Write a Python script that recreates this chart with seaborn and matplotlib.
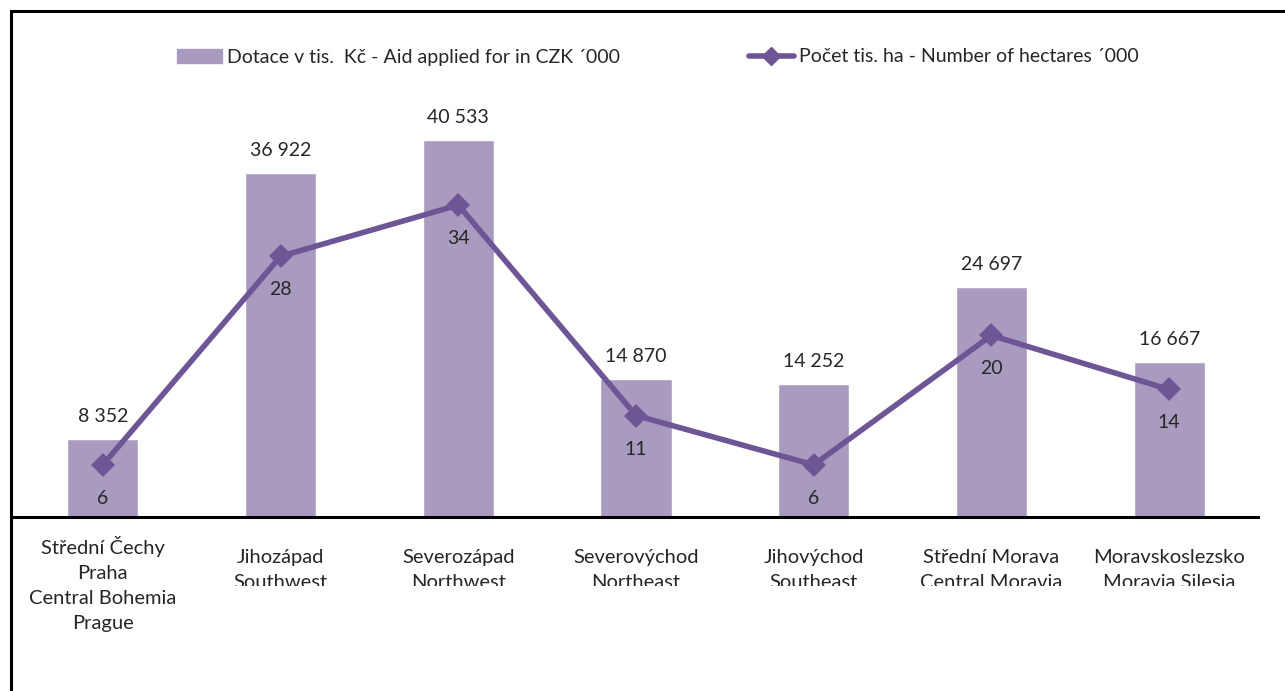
import numpy as np
import pandas as pd
import matplotlib
matplotlib.use("Agg")
import matplotlib.pyplot as plt
import matplotlib.patches as mpatches
from matplotlib.lines import Line2D
from matplotlib.transforms import Bbox
import seaborn as sns

regions = ["Střední Čechy\nPraha\nCentral Bohemia\nPrague",
           "Jihozápad\nSouthwest",
           "Severozápad\nNorthwest",
           "Severovýchod\nNortheast",
           "Jihovýchod\nSoutheast",
           "Střední Morava\nCentral Moravia",
           "Moravskoslezsko\nMoravia Silesia"]
aid = [8352, 36922, 40533, 14870, 14252, 24697, 16667]
hectares = [5.6, 28.0, 33.5, 10.9, 5.6, 19.5, 13.7]

bar_color = "#A99BBF"
line_color = "#6E5596"

sns.set_style("white")
plt.rcParams["font.family"] = ["Lato", "DejaVu Sans"]

df = pd.DataFrame({"region": regions, "aid": aid, "ha": hectares})

fig = plt.figure(figsize=(12.85, 6.91), dpi=100)
ax = fig.add_axes([14/1285, 1-517/691, 1244/1285, 419/691])
sns.barplot(data=df, x="region", y="aid", color=bar_color, width=0.4,
            saturation=1, ax=ax)
ax.set_ylim(0, 45000)
ax.set_xlim(-0.5, 6.5)

ax2 = ax.twinx()
sns.pointplot(data=df, x="region", y="ha", color=line_color, markers="D",
              markersize=9, linewidth=4, ax=ax2)
ax2.set_ylim(0, 45)
ax2.set_xlim(-0.5, 6.5)

for i, v in enumerate(aid):
    ax.annotate(f"{v:,}".replace(",", " "), (i, v), xytext=(0, 10),
                textcoords="offset points", ha="center", va="bottom", fontsize=14)
for i, v in enumerate(hectares):
    ax2.annotate(f"{v:.0f}", (i, v), xytext=(0, -18), textcoords="offset points",
                 ha="center", va="top", fontsize=14)

for a in (ax, ax2):
    a.set_xlabel("")
    a.set_ylabel("")
    a.set_yticks([])
    for s in ["top", "left", "right"]:
        a.spines[s].set_visible(False)
ax2.spines["bottom"].set_visible(False)
ax.spines["bottom"].set_linewidth(2.2)
ax.spines["bottom"].set_color("black")
ax.tick_params(axis="x", length=0, labelsize=14.5)
for t in ax.get_xticklabels():
    t.set_linespacing(1.58)
ticks = ax.xaxis.get_major_ticks()
ticks[0].set_pad(13.5)
for tk in ticks[1:]:
    tk.set_pad(23)
# the lower lines of the two-line labels are cut off in the original
clip = Bbox.from_extents(0, 691 - 586, 1285, 691)
for t in ax.get_xticklabels()[1:]:
    t.set_clip_on(True)
    t.set_clip_box(clip)

handles = [mpatches.Patch(color=bar_color),
           Line2D([0], [0], color=line_color, lw=4, marker="D", markersize=9)]
labels = ["Dotace v tis.  Kč - Aid applied for in CZK ´000",
          "Počet tis. ha - Number of hectares ´000"]
fig.legend(handles, labels, ncol=2, loc="center", bbox_to_anchor=(658/1285, 1-57/691),
           frameon=False, fontsize=14, columnspacing=6.6, handlelength=2.3,
           handletextpad=0.3)

fig.add_artist(mpatches.Rectangle((10.5/1285, -0.1), 1.2, 1.1 - 10.5/691,
                                  transform=fig.transFigure, fill=False,
                                  edgecolor="black", linewidth=2.2))

fig.savefig("out.png", dpi=100)
